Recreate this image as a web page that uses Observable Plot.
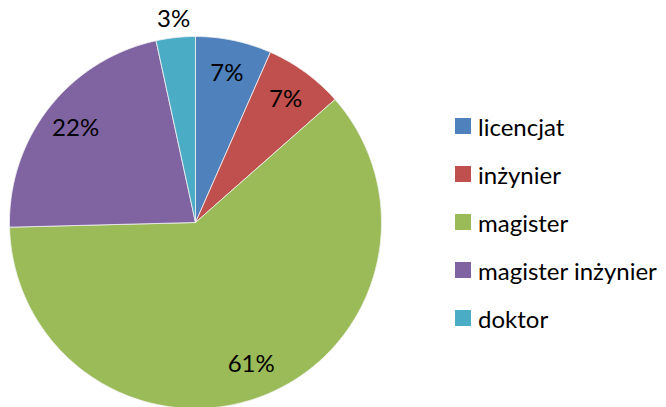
<!DOCTYPE html>
<html>
<head>
<meta charset="utf-8">
<script src="https://cdn.jsdelivr.net/npm/d3@7"></script>
<script src="https://cdn.jsdelivr.net/npm/@observablehq/plot@0.6"></script>
<style>
  html, body { margin: 0; padding: 0; background: #fff; }
  #wrap { position: relative; width: 666px; height: 407px; overflow: hidden; }
  #legend { position: absolute; left: 455px; top: 102px; font-family: Lato, "Open Sans", sans-serif; font-size: 24px; color: #000; }
  #legend .row { display: flex; align-items: center; height: 48px; }
  #legend .sw { width: 16px; height: 16px; margin-right: 7px; }
</style>
</head>
<body>
<div id="wrap"></div>
<script>
const categories = ["licencjat", "inżynier", "magister", "magister inżynier", "doktor"];
const values = [6.6, 6.9, 61.1, 22.0, 3.4];
const colors = ["#4F81BD", "#C0504D", "#9BBB59", "#8064A2", "#4BACC6"];

const total = d3.sum(values);
const slices = [];
let cum = 0;
categories.forEach((c, i) => {
  const a0 = cum / total * 2 * Math.PI;
  cum += values[i];
  const a1 = cum / total * 2 * Math.PI;
  slices.push({cat: c, value: values[i], a0, a1});
});

// polygon points for each slice (geometry derived from data)
const pts = [];
for (const s of slices) {
  pts.push({cat: s.cat, x: 0, y: 0});
  const n = Math.max(2, Math.ceil((s.a1 - s.a0) / (Math.PI / 360)));
  for (let k = 0; k <= n; k++) {
    const a = s.a0 + (s.a1 - s.a0) * k / n;
    pts.push({cat: s.cat, x: Math.sin(a), y: Math.cos(a)});
  }
  pts.push({cat: s.cat, x: 0, y: 0});
}

const labels = slices.map(s => {
  const am = (s.a0 + s.a1) / 2;
  const r = s.value / total < 0.05 ? 1.1 : 0.82;
  return {x: r * Math.sin(am), y: r * Math.cos(am), text: Math.round(s.value / total * 100) + "%"};
});

const chart = Plot.plot({
  width: 666,
  height: 407,
  x: {domain: [-1, 1], range: [9, 381], axis: null},
  y: {domain: [-1, 1], range: [408, 36], axis: null},
  color: {domain: categories, range: colors},
  style: {background: "white", overflow: "visible"},
  marks: [
    Plot.line(pts, {x: "x", y: "y", z: "cat", fill: "cat", stroke: "#f2f2f2", strokeWidth: 0.8, curve: "linear-closed"}),
    Plot.text(labels, {x: "x", y: "y", text: "text", fontSize: 24, fill: "black", fontFamily: "Lato, 'Open Sans', sans-serif"})
  ]
});
const wrap = document.getElementById("wrap");
wrap.appendChild(chart);

const leg = document.createElement("div");
leg.id = "legend";
categories.forEach((c, i) => {
  const row = document.createElement("div");
  row.className = "row";
  const sw = document.createElement("div");
  sw.className = "sw";
  sw.style.background = colors[i];
  const t = document.createElement("span");
  t.textContent = c;
  row.appendChild(sw);
  row.appendChild(t);
  leg.appendChild(row);
});
wrap.appendChild(leg);
</script>
</body>
</html>
